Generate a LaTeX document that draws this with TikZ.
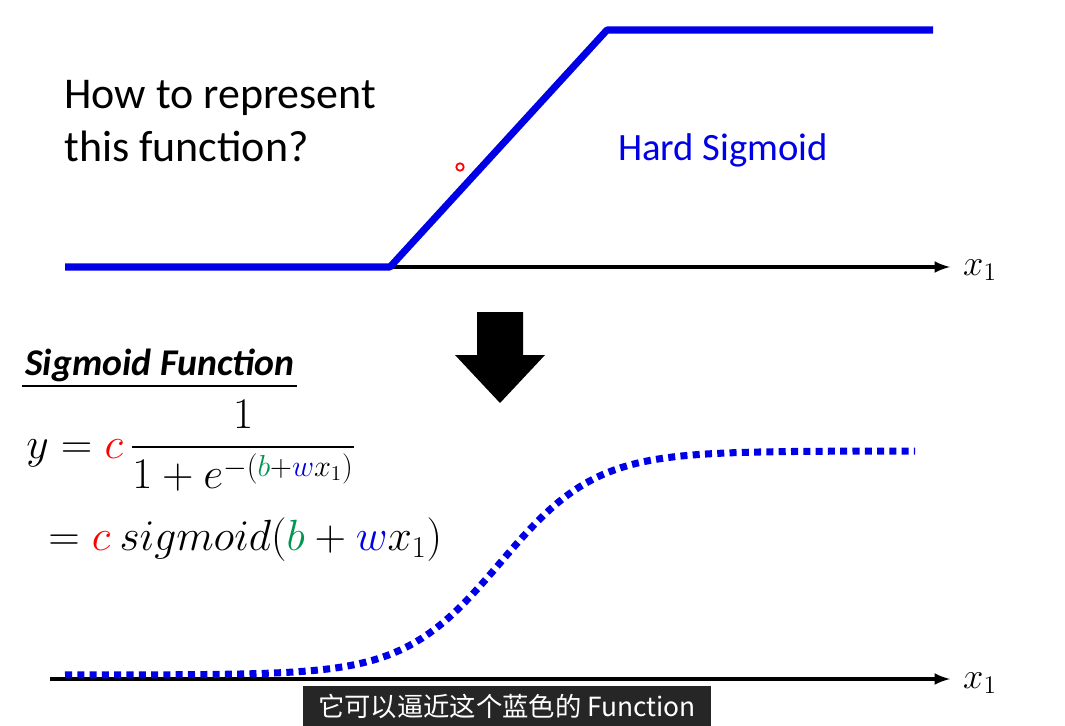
\documentclass[tikz,border=0pt]{standalone}
\usepackage{fontspec}
\setmainfont{Carlito}
\newfontfamily\cjk{Noto Sans CJK SC}
\usepackage{amsmath}
\usetikzlibrary{positioning}
\definecolor{hardblue}{RGB}{0,0,230}
\definecolor{bgreen}{RGB}{0,150,80}
\begin{document}
\begin{tikzpicture}[x=0.02cm, y=-0.02cm, semithick,
                    axis/.style  = {-latex, line width = 2pt},
                    curve/.style = {hardblue, line width = 4pt},
                    txt/.style   = {font = \fontsize{25}{30}\selectfont, align = left}]
\useasboundingbox (0,0) rectangle (1065,726);

% top: hard sigmoid
\coordinate (o1) at (65,267);
\coordinate (e1) at (950,267);
\draw[axis] (o1) -- (e1);
\node (x1a) at (980,270) {\fontsize{22}{26}\selectfont$x_1$};
\draw[curve, line join = round] (o1) -- (390,267) -- (607,30) -- (933,30);
\node[txt, anchor = west] (q) at (58,121) {How to represent\\this function?};
\node[txt, hardblue, font = \fontsize{22}{26}\selectfont] (hs) at (723,150) {Hard Sigmoid};
\node[draw = red, circle, inner sep = 1.5pt, line width = 1pt] (dot) at (460,167) {};

% arrow
\fill (477,312) -- (523,312) -- (523,355) -- (545,355) -- (500,403)
      -- (455,355) -- (477,355) -- cycle;

% sigmoid function
\node (title) at (160,365) {\fontsize{21.5}{26}\selectfont\bfseries\itshape Sigmoid Function};
\draw[line width = 0.8pt] (22,386) -- (297,386);
\node[anchor = west] (f1) at (20,446) {\fontsize{23}{28}\selectfont
  $y = {\color{red}c}\,\dfrac{1}{1+e^{-({\color{bgreen}b}+{\color{hardblue}w}x_1)}}$};
\node[anchor = west] (f2) at (42,540) {\fontsize{23}{28}\selectfont
  $= {\color{red}c}\ sigmoid({\color{bgreen}b}+{\color{hardblue}w}x_1)$};

% bottom: sigmoid
\coordinate (o2) at (50,679);
\coordinate (e2) at (950,679);
\draw[axis] (o2) -- (e2);
\node (x1b) at (980,683) {\fontsize{22}{26}\selectfont$x_1$};
\draw[curve, dash pattern = on 4pt off 3pt, domain = 65:915, samples = 120]
  plot (\x, {675 - 224/(1+exp(-(\x-500)/48))});

% subtitle
\node[fill = black!85, text = white, minimum width = 408*0.02cm,
      minimum height = 40*0.02cm, inner sep = 0pt] (sub) at (507,706)
  {\fontsize{15}{18}\selectfont\cjk 它可以逼近这个蓝色的 Function};
\end{tikzpicture}
\end{document}
